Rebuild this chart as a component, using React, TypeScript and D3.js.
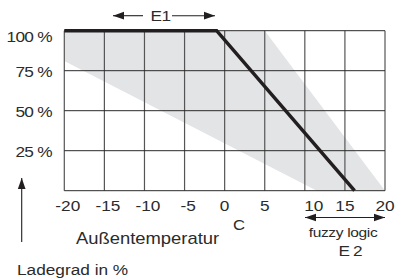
import React, { useEffect, useRef } from 'react';
import * as d3 from 'd3';

// Temperature ticks (x) and charge level ticks (y)
const tempTicks = [-20, -15, -10, -5, 0, 5, 10, 15, 20];
const chargeTicks = [0, 25, 50, 75, 100];
const chargeLabels = ['', '25 %', '50 %', '75 %', '100 %'];

// Characteristic line
const lineTemp = [-20, -1, 16.2];
const lineCharge = [100, 100, 0];

// Grey adjustment band (upper edge, then lower edge)
const bandUpperTemp = [-20, 5, 20];
const bandUpperCharge = [100, 100, 0];
const bandLowerTemp = [11.5, -20];
const bandLowerCharge = [0, 81];

const width = 398;
const height = 280;
const font = 'Liberation Sans, Arial, sans-serif';
const ink = '#231f20';
const stretch = 1.15; // the original lettering is a bit wider than Arial

const App = () => {
    const ref = useRef<SVGSVGElement>(null);

    useEffect(() => {
        const svg = d3.select(ref.current);
        svg.selectAll('*').remove();

        const x = d3.scaleLinear().domain([-20, 20]).range([64.3, 385]);
        const y = d3.scaleLinear().domain([0, 100]).range([190.7, 30.7]);

        const defs = svg.append('defs');
        defs.append('marker')
            .attr('id', 'head')
            .attr('viewBox', '0 0 10 10')
            .attr('refX', 10)
            .attr('refY', 5)
            .attr('markerWidth', 11)
            .attr('markerHeight', 11)
            .attr('markerUnits', 'userSpaceOnUse')
            .attr('orient', 'auto-start-reverse')
            .append('path')
            .attr('d', 'M0,1.5 L10,5 L0,8.5 Z')
            .attr('fill', ink);

        // Band
        const band = bandUpperTemp.map((t, i) => [x(t), y(bandUpperCharge[i])])
            .concat(bandLowerTemp.map((t, i) => [x(t), y(bandLowerCharge[i])]));
        svg.append('path')
            .attr('d', d3.line()(band as [number, number][]) + 'Z')
            .attr('fill', '#e3e4e6');

        // Grid
        svg.selectAll('.vgrid')
            .data(tempTicks)
            .enter()
            .append('line')
            .attr('x1', d => x(d))
            .attr('x2', d => x(d))
            .attr('y1', y(100))
            .attr('y2', y(0))
            .attr('stroke', '#555')
            .attr('stroke-width', 1.2);

        svg.selectAll('.hgrid')
            .data(chargeTicks)
            .enter()
            .append('line')
            .attr('x1', x(-20))
            .attr('x2', x(20))
            .attr('y1', d => y(d))
            .attr('y2', d => y(d))
            .attr('stroke', '#2a2a2a')
            .attr('stroke-width', 1);

        // Characteristic line
        const pts = lineTemp.map((t, i) => [x(t), y(lineCharge[i])] as [number, number]);
        svg.append('path')
            .attr('d', d3.line()(pts))
            .attr('fill', 'none')
            .attr('stroke', ink)
            .attr('stroke-width', 3.5)
            .attr('stroke-linejoin', 'miter');

        const txt = (s: string, tx: number, ty: number, size: number, anchor = 'start', ls = 0) =>
            svg.append('text')
                .attr('transform', `translate(${tx},${ty}) scale(${stretch},1)`)
                .attr('text-anchor', anchor)
                .style('font-family', font)
                .style('font-size', size + 'px')
                .style('letter-spacing', ls + 'px')
                .attr('fill', '#2b2b2b')
                .text(s);

        // Y labels
        chargeTicks.filter(d => d > 0).forEach(d => {
            txt(chargeLabels[chargeTicks.indexOf(d)], 52, Math.max(y(d) + 6.5, 42), 15, 'end', -0.6);
        });

        // X labels
        tempTicks.forEach(d => {
            const nudge = d < 0 ? 3.5 : d === 10 ? 9 : 0;
            txt(String(d), x(d) + nudge, 211, 15, 'middle');
        });

        const arrow = (x1: number, y1: number, x2: number, y2: number, both = false) =>
            svg.append('line')
                .attr('x1', x1).attr('y1', y1)
                .attr('x2', x2).attr('y2', y2)
                .attr('stroke', ink)
                .attr('stroke-width', 1.1)
                .attr('marker-end', 'url(#head)')
                .attr('marker-start', both ? 'url(#head)' : null);

        // E1 arrows
        arrow(143, 15.7, 113, 15.7);
        arrow(172, 15.7, 215, 15.7);
        txt('E1', 160.5, 20.7, 15, 'middle', -0.5);

        // Axis titles
        txt('Außentemperatur', 76, 244, 16);
        txt('C', 239, 230, 14.5, 'middle');
        arrow(21.7, 242, 21.7, 178);
        txt('Ladegrad in %', 17, 275, 15);

        // fuzzy logic
        arrow(305, 217.5, 385, 217.5, true);
        txt('fuzzy logic', 343, 236.5, 13.5, 'middle', -0.3);
        txt('E 2', 350, 256, 15, 'middle', -0.8);
    }, []);

    return (
        <svg
            ref={ref}
            width={width}
            height={height}
            style={{ position: 'absolute', left: 0, top: 0, background: '#fff' }}
        />
    );
};

export default App;
